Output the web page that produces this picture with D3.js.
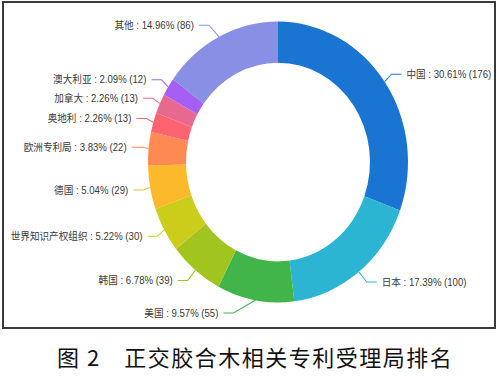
<!DOCTYPE html>
<html>
<head>
<meta charset="utf-8">
<script src="https://cdn.jsdelivr.net/npm/d3@7"></script>
<style>
  html, body { margin: 0; padding: 0; background: #fff; }
  svg { display: block; }
</style>
</head>
<body>
<svg id="chart" width="500" height="381"></svg>
<script>
const categories = ["中国", "日本", "美国", "韩国", "世界知识产权组织", "德国", "欧洲专利局", "奥地利", "加拿大", "澳大利亚", "其他"];
const values = [176, 100, 55, 39, 30, 29, 22, 13, 13, 12, 86];
const colors = ["#1a74d1", "#2cb5d2", "#41b549", "#a2c41e", "#cccd1a", "#fcb92a", "#fd8a52", "#fe6470", "#e8698f", "#a55ff2", "#8a8fe6"];
const caption = "图 2\u3000正交胶合木相关专利受理局排名";

const W = 500, H = 381;
const svg = d3.select("#chart");

// frame
svg.append("rect")
  .attr("x", 3).attr("y", 2).attr("width", 492).attr("height", 326)
  .attr("fill", "none").attr("stroke", "#3a3a3a").attr("stroke-width", 2);

// chart space (vertically stretched like the reference)
const k = 1.08;
const cx = 278, cy = 150;
const R = 130, r0 = 92, L1 = 12, L2 = 10, gap = 5;
const fontSize = 9.6;

const g = svg.append("g").attr("transform", `scale(1,${k})`);

const data = categories.map((c, i) => ({ name: c, value: values[i], color: colors[i] }));
const total = d3.sum(values);

const pie = d3.pie().sort(null).value(d => d.value);
const arcs = pie(data);
const arcGen = d3.arc().innerRadius(r0).outerRadius(R);

g.append("g").attr("transform", `translate(${cx},${cy})`)
  .selectAll("path").data(arcs).join("path")
  .attr("d", arcGen)
  .attr("fill", d => d.data.color);

// label layout (ECharts-4 style)
const layouts = arcs.map(a => {
  const mid = (a.startAngle + a.endAngle) / 2;
  const dx = Math.sin(mid), dy = -Math.cos(mid);
  const x1 = cx + R * dx, y1 = cy + R * dy;
  const x2 = cx + (R + L1) * dx, y2 = cy + (R + L1) * dy;
  const dir = dx < 0 ? -1 : 1;
  const x3 = x2 + dir * L2;
  const pct = (a.data.value / total * 100).toFixed(2);
  return {
    d: a.data, dir, x: x3 + dir * gap, y: y2, height: 12,
    p1: [x1, y1], dist: x2 - x3,
    text: `${a.data.name} : ${pct}% (${a.data.value})`
  };
});

function adjustSide(list, dir) {
  list.sort((a, b) => a.y - b.y);
  let lastY = 0;
  for (let i = 0; i < list.length; i++) {
    const delta = list[i].y - lastY;
    if (delta < 0) {
      for (let j = i; j < list.length; j++) list[j].y += -delta;
    }
    lastY = list[i].y + list[i].height;
  }
  const up = list.filter(l => l.y < cy);
  const down = list.filter(l => l.y >= cy);
  const changeX = (arr, isDown) => {
    let last = isDown ? Number.MAX_VALUE : 0;
    arr.forEach(l => {
      const dyy = Math.abs(l.y - cy);
      let dxx = dyy < R + L1 ? Math.sqrt((R + L1 + L2) ** 2 - dyy * dyy) : Math.abs(l.x - cx);
      if (isDown && dxx >= last) dxx = last - 10;
      if (!isDown && dxx <= last) dxx = last + 10;
      l.x = cx + dxx * dir;
      last = dxx;
    });
  };
  changeX(up, false);
  changeX(down, true);
}
adjustSide(layouts.filter(l => l.dir < 0), -1);
adjustSide(layouts.filter(l => l.dir > 0), 1);

layouts.forEach(l => {
  const p3x = l.x - l.dir * gap;
  const p2x = p3x + l.dist;
  l.points = [l.p1, [p2x, l.y], [p3x, l.y]];
});

g.append("g").selectAll("polyline").data(layouts).join("polyline")
  .attr("points", l => l.points.map(p => p.join(",")).join(" "))
  .attr("fill", "none")
  .attr("stroke", l => l.d.color)
  .attr("stroke-width", 0.95);

g.append("g").selectAll("text").data(layouts).join("text")
  .attr("x", l => l.x)
  .attr("y", l => l.y)
  .attr("dy", "0.35em")
  .attr("text-anchor", l => l.dir < 0 ? "end" : "start")
  .attr("font-family", "'Liberation Sans', Arial, 'Noto Sans CJK SC', sans-serif")
  .attr("font-size", fontSize)
  .attr("fill", "#3a3a3a")
  .text(l => l.text);

// caption
svg.append("text")
  .attr("x", 57).attr("y", 366)
  .attr("font-family", "'Noto Sans CJK SC', sans-serif")
  .attr("font-size", 22)
  .attr("letter-spacing", 1.5)
  .attr("fill", "#111")
  .text(caption);
</script>
</body>
</html>
